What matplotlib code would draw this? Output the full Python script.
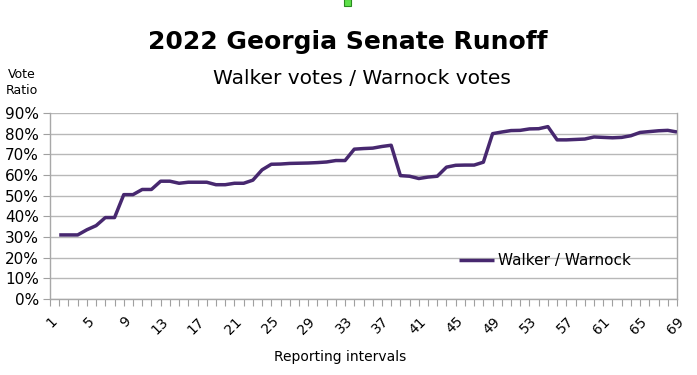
import numpy as np
import matplotlib
matplotlib.use("Agg")
import matplotlib.pyplot as plt
from matplotlib.patches import Rectangle

intervals = list(range(1, 70))
ratio_pct = [np.nan, 31, 31, 31, 33.5, 35.5, 39.4, 39.4, 50.5, 50.5,
             53, 53, 57, 57, 56, 56.5, 56.5, 56.5, 55.3, 55.3,
             56, 56, 57.5, 62.5, 65.2, 65.3, 65.6, 65.7, 65.8, 66,
             66.3, 67, 67, 72.5, 72.8, 73, 73.8, 74.4, 59.7, 59.4,
             58.3, 59, 59.4, 63.8, 64.7, 64.8, 64.8, 66.2, 80, 80.8,
             81.5, 81.6, 82.3, 82.4, 83.4, 77, 77, 77.2, 77.4, 78.4,
             78.2, 78, 78.2, 79, 80.6, 81, 81.4, 81.6, 80.8]
yticks_pct = list(range(0, 100, 10))
xtick_labels = list(range(1, 70, 4))

W, H = 697, 375
fig = plt.figure(figsize=(W / 100, H / 100), dpi=100)
ax = fig.add_axes([50 / W, 1 - 299 / H, 627 / W, 186 / H])

vals = np.array(ratio_pct) / 100.0
ax.plot(intervals, vals, color="#47286f", linewidth=2.5,
        solid_capstyle="butt", label="Walker / Warnock", zorder=3)

ax.set_xlim(1, 69)
ax.set_ylim(0, 0.9)
ax.set_yticks([v / 100 for v in yticks_pct])
ax.set_yticklabels([f"{v}%" for v in yticks_pct], fontsize=11)
ax.set_xticks(xtick_labels)
ax.set_xticklabels([str(v) for v in xtick_labels], fontsize=10,
                   rotation=45, ha="right", va="top", rotation_mode="anchor")
ax.set_xticks(intervals, minor=True)
ax.tick_params(axis="x", which="both", length=5, color="#a0a0a0", width=0.8, pad=6)
ax.tick_params(axis="y", length=5, color="#a0a0a0", width=0.8, pad=3)
ax.yaxis.grid(True, color="#b8b8b8", linewidth=1.0)
ax.set_axisbelow(True)
for s in ["left", "right", "bottom"]:
    ax.spines[s].set_color("#a8a8a8")
    ax.spines[s].set_linewidth(1.0)
ax.spines["top"].set_visible(False)

ax.legend(loc="upper left", bbox_to_anchor=(0.63, 0.32), frameon=False,
          fontsize=11, handlelength=2.3, handletextpad=0.3)

fig.text(348 / W, 1 - 42 / H, "2022 Georgia Senate Runoff", ha="center",
         va="center", fontsize=18, fontweight="bold")
fig.text(362 / W, 1 - 78 / H, "Walker votes / Warnock votes", ha="center",
         va="center", fontsize=14.5)
fig.text(22 / W, 1 - 83 / H, "Vote\nRatio", ha="center", va="center",
         fontsize=9, linespacing=1.3)
fig.text(340 / W, 1 - 357 / H, "Reporting intervals", ha="center",
         va="center", fontsize=10)

fig.patches.append(Rectangle((344 / W, 1 - 6 / H), 7 / W, 7 / H,
                             transform=fig.transFigure, facecolor="#5ee04a",
                             edgecolor="#2a8a20", linewidth=0.8))

fig.savefig("out.png", dpi=100)
